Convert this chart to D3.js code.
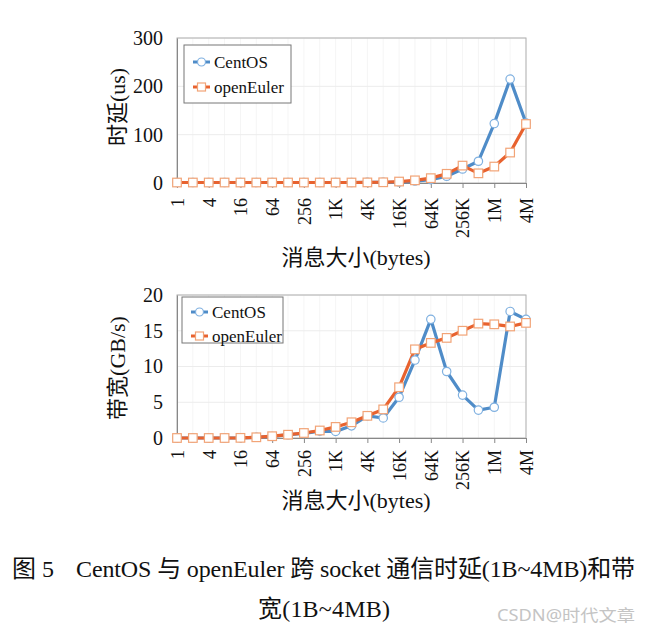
<!DOCTYPE html>
<html>
<head>
<meta charset="utf-8">
<script src="https://cdn.jsdelivr.net/npm/d3@7"></script>
<style>
  body { margin: 0; background: #fff; }
  text { font-family: "Liberation Serif", "Noto Sans CJK SC", serif; fill: #111; }
</style>
</head>
<body>
<script>
// message sizes 1B .. 4MB
const sizes = ["1","2","4","8","16","32","64","128","256","512","1K","2K","4K","8K","16K","32K","64K","128K","256K","512K","1M","2M","4M"];
const seriesNames = ["CentOS", "openEuler"];

// latency (us)
const latCentOS    = [1,1,1,1,1,1,1,1,1,1,1,1,1.2,1.5,2,4,7,14,29,45,123,215,124];
const latOpenEuler = [1,1,1,1,1,1,1,1,1,1,1,1,1.2,1.5,3,5.5,10,19,36,20,34,63,122];

// bandwidth (GB/s)
const bwCentOS    = [0,0,0,0,0.02,0.1,0.22,0.45,0.65,0.95,0.92,1.7,3.1,2.8,5.7,10.9,16.6,9.3,6.0,3.9,4.3,17.7,16.6];
const bwOpenEuler = [0,0,0,0,0.02,0.1,0.25,0.46,0.7,1.05,1.55,2.2,3.1,4.0,7.1,12.4,13.3,14.0,15.0,16.0,15.9,15.6,16.1];

const latTicks = [0, 100, 200, 300];
const bwTicks = [0, 5, 10, 15, 20];

const blue = "#4f8cc8", blueEdge = "#7fb0e0";
const orange = "#e8622f", orangeEdge = "#f2a477";

const svg = d3.select("body").append("svg")
    .attr("width", 648)
    .attr("height", 634);

const x = d3.scalePoint().domain(sizes).range([177, 526]);

function drawPanel(opt) {
    const y = d3.scaleLinear().domain([0, opt.max]).range([opt.bottom, opt.top]);
    const g = svg.append("g");

    // vertical faint grid
    g.selectAll(".vg").data(sizes).enter().append("line")
        .attr("x1", d => x(d)).attr("x2", d => x(d))
        .attr("y1", opt.top).attr("y2", opt.bottom)
        .attr("stroke", "#f5f5f5");
    // horizontal grid
    g.selectAll(".hg").data(opt.ticks.slice(1)).enter().append("line")
        .attr("x1", 177).attr("x2", 526)
        .attr("y1", d => y(d)).attr("y2", d => y(d))
        .attr("stroke", "#ececec");
    // frame
    g.append("rect")
        .attr("x", 177).attr("y", opt.top)
        .attr("width", 349).attr("height", opt.bottom - opt.top)
        .attr("fill", "none").attr("stroke", "#b0b0b0");

    // y axis
    const ya = g.append("g").attr("transform", "translate(177,0)")
        .call(d3.axisLeft(y).tickValues(opt.ticks).tickSize(0).tickPadding(14));
    ya.select(".domain").attr("stroke", "#888");
    ya.selectAll("text").style("font-family", "Liberation Serif").style("font-size", "20px").attr("fill", "#111");

    // x axis
    const xa = g.append("g").attr("transform", `translate(0,${opt.bottom})`)
        .call(d3.axisBottom(x).tickValues(sizes.filter((d, i) => i % 2 === 0)).tickSize(5).tickSizeOuter(0));
    xa.select(".domain").attr("stroke", "#888");
    xa.selectAll(".tick line").attr("stroke", "#888");
    xa.selectAll("text")
        .style("font-family", "Liberation Serif").style("font-size", "18px").attr("fill", "#111")
        .attr("transform", "rotate(-90)")
        .attr("text-anchor", "end")
        .attr("x", -opt.labelGap).attr("y", 0).attr("dy", "0.35em");

    // titles
    svg.append("text")
        .attr("transform", `translate(${opt.yTitleX},${opt.yTitleY}) rotate(-90)`)
        .attr("text-anchor", "middle").attr("dy", "0.35em")
        .style("font-size", "22px").text(opt.yTitle);
    svg.append("text")
        .attr("x", 356).attr("y", opt.xTitleY)
        .attr("text-anchor", "middle")
        .style("font-size", "22px").text("消息大小(bytes)");

    // series
    const line = d3.line().x((d, i) => x(sizes[i])).y(d => y(d));
    const series = [
        {name: seriesNames[0], vals: opt.a, color: blue, edge: blueEdge, shape: "circle"},
        {name: seriesNames[1], vals: opt.b, color: orange, edge: orangeEdge, shape: "square"}
    ];
    const order = [0, 1];
    for (const k of order) {
        const s = series[k];
        g.append("path").datum(s.vals)
            .attr("d", line).attr("fill", "none")
            .attr("stroke", s.color).attr("stroke-width", 3.2)
            .attr("stroke-linejoin", "round");
    }
    for (const k of order) {
        const s = series[k];
        if (s.shape === "circle") {
            g.selectAll(null).data(s.vals).enter().append("circle")
                .attr("cx", (d, i) => x(sizes[i])).attr("cy", d => y(d)).attr("r", 4.2)
                .attr("fill", "#fff").attr("stroke", s.edge).attr("stroke-width", 1.2);
        } else {
            g.selectAll(null).data(s.vals).enter().append("rect")
                .attr("x", (d, i) => x(sizes[i]) - 4.3).attr("y", d => y(d) - 4.3)
                .attr("width", 8.6).attr("height", 8.6)
                .attr("fill", "#fff").attr("stroke", s.edge).attr("stroke-width", 1.2);
        }
    }

    // legend
    const lg = svg.append("g");
    lg.append("rect")
        .attr("x", opt.leg.x).attr("y", opt.leg.y).attr("width", opt.leg.w).attr("height", opt.leg.h)
        .attr("fill", "#fff").attr("stroke", "#777").attr("stroke-width", 1);
    series.forEach((s, i) => {
        const cy = opt.leg.y + opt.leg.first + i * opt.leg.step;
        const lx = opt.leg.x + 9;
        lg.append("line").attr("x1", lx).attr("x2", lx + 17).attr("y1", cy).attr("y2", cy)
            .attr("stroke", s.color).attr("stroke-width", 3);
        if (s.shape === "circle") {
            lg.append("circle").attr("cx", lx + 8.5).attr("cy", cy).attr("r", 4)
                .attr("fill", "#fff").attr("stroke", s.edge).attr("stroke-width", 1.2);
        } else {
            lg.append("rect").attr("x", lx + 4.5).attr("y", cy - 4).attr("width", 8).attr("height", 8)
                .attr("fill", "#fff").attr("stroke", s.edge).attr("stroke-width", 1.2);
        }
        lg.append("text").attr("x", lx + 21).attr("y", cy).attr("dy", "0.35em")
            .style("font-size", "17px").text(s.name);
    });
}

drawPanel({
    max: 300, ticks: latTicks, top: 38, bottom: 183, labelGap: 15,
    a: latCentOS, b: latOpenEuler,
    yTitle: "时延(us)", yTitleX: 117, yTitleY: 107, xTitleY: 265,
    leg: {x: 184, y: 45, w: 107, h: 58, first: 17, step: 25}
});

drawPanel({
    max: 20, ticks: bwTicks, top: 295, bottom: 438, labelGap: 12,
    a: bwCentOS, b: bwOpenEuler,
    yTitle: "带宽(GB/s)", yTitleX: 117, yTitleY: 368, xTitleY: 508,
    leg: {x: 182, y: 297, w: 101, h: 46, first: 15, step: 24}
});

// caption
svg.append("text").attr("x", 12).attr("y", 577)
    .style("font-size", "24px").text("图 5");
svg.append("text").attr("x", 76).attr("y", 577)
    .attr("textLength", 559).attr("lengthAdjust", "spacing")
    .style("font-size", "24px").text("CentOS 与 openEuler  跨 socket 通信时延(1B~4MB)和带");
svg.append("text").attr("x", 258).attr("y", 617)
    .attr("textLength", 132).attr("lengthAdjust", "spacing")
    .style("font-size", "24px").text("宽(1B~4MB)");
svg.append("text").attr("x", 497).attr("y", 621)
    .attr("textLength", 138).attr("lengthAdjust", "spacingAndGlyphs")
    .style("font-family", "'Noto Sans', 'Noto Sans CJK SC', sans-serif").style("font-size", "16px")
    .style("fill", "#c4c4c4").text("CSDN@时代文章");
</script>
</body>
</html>
